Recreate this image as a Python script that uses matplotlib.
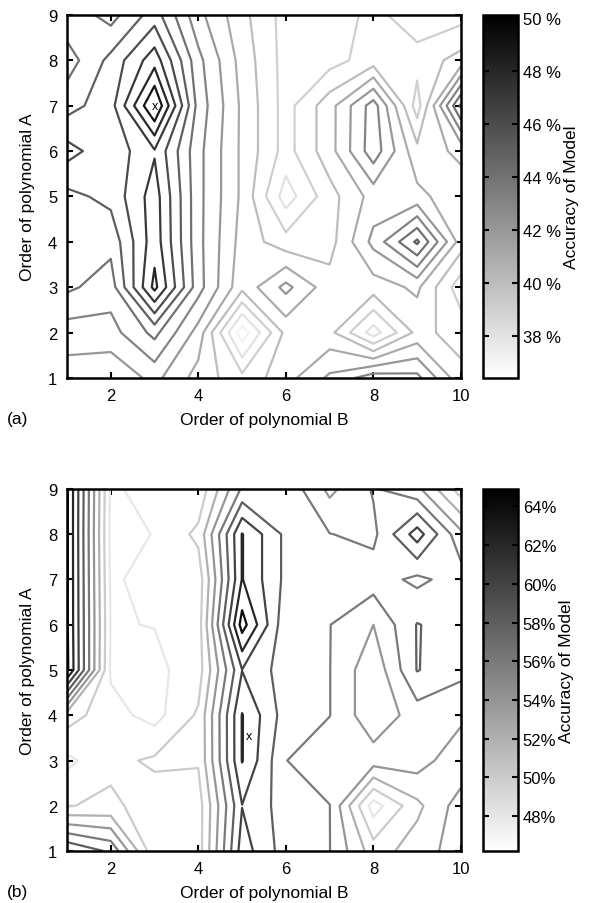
import matplotlib
matplotlib.use("Agg")
import matplotlib.pyplot as plt
import numpy as np
from matplotlib.colors import Normalize
from matplotlib.cm import ScalarMappable

plt.rcParams['font.family'] = ['Liberation Sans', 'DejaVu Sans']

order_b = np.arange(1, 11)   # Order of polynomial B (x)
order_a = np.arange(1, 10)   # Order of polynomial A (y)

# panel (a): accuracy in %, rows = A from 1 to 9, columns = B from 1 to 10
acc_a = np.array([
    [41.5, 41.2, 42.3, 40.6, 39.3, 40.6, 42.2, 43.6, 43.3, 40.3],   # A=1
    [42.5, 42.6, 44.3, 41.6, 36.4, 40.3, 40.3, 37.5, 40.3, 39.6],   # A=2
    [44.2, 43.5, 48.3, 43.4, 40.3, 42.3, 40.4, 40.5, 41.2, 38.4],   # A=3
    [44.6, 44.3, 47.6, 43.3, 40.6, 39.4, 39.6, 42.3, 45.2, 40.5],   # A=4
    [44.7, 45.3, 47.5, 43.3, 40.8, 37.5, 39.6, 41.4, 41.3, 40.3],   # A=5
    [46.4, 45.3, 46.9, 43.3, 40.8, 38.6, 40.6, 43.6, 40.3, 41.3],   # A=6
    [44.6, 45.6, 50.1, 43.6, 40.8, 38.6, 40.6, 43.5, 38.5, 45.2],   # A=7
    [43.5, 45.3, 47.6, 43.3, 40.6, 38.6, 38.6, 39.5, 39.4, 40.4],   # A=8
    [44.7, 43.6, 45.5, 42.3, 40.3, 38.6, 38.4, 39.3, 38.4, 38.6],   # A=9
])
levels_a = np.arange(37, 50, 1)
cbar_a_ticks = [38, 40, 42, 44, 46, 48, 50]
best_a = (3, 7)

# panel (b)
acc_b = np.array([
    [60.0, 57.6, 48.5, 49.0, 61.0, 57.0, 56.05, 51.0, 53.0, 55.0],   # A=1
    [49.9, 50.4, 49.1, 49.0, 59.95, 57.0, 56.05, 47.0, 51.5, 55.0],  # A=2
    [47.5, 49.5, 50.3, 50.2, 62.1, 56.05, 54.5, 55.0, 55.0, 52.5],   # A=3
    [51.0, 48.7, 47.3, 50.3, 62.1, 57.0, 56.05, 52.5, 55.0, 54.5],   # A=4
    [64.5, 47.7, 47.5, 49.0, 59.95, 57.0, 56.05, 52.5, 58.1, 56.5],  # A=5
    [64.3, 47.9, 48.05, 49.0, 64.9, 56.5, 56.05, 54.0, 58.1, 57.0],  # A=6
    [64.3, 47.7, 48.7, 48.8, 62.1, 57.5, 57.0, 57.0, 55.5, 57.0],    # A=7
    [64.3, 47.5, 48.05, 50.5, 62.1, 57.5, 56.05, 55.5, 61.0, 54.5],  # A=8
    [64.3, 47.7, 48.7, 48.5, 56.3, 57.5, 53.5, 56.2, 54.5, 49.0],    # A=9
])
levels_b = np.arange(48, 65, 2)
cbar_b_ticks = [48, 50, 52, 54, 56, 58, 60, 62, 64]
best_b = (5.15, 3.55)

fig = plt.figure(figsize=(5.96, 9.04), dpi=100)

panels = [
    (acc_a, levels_a, (36.4, 50.1), cbar_a_ticks, "%d %%", best_a, "(a)",
     [0.1124, 0.5808, 0.661, 0.4015]),
    (acc_b, levels_b, (46.2, 64.9), cbar_b_ticks, "%d%%", best_b, "(b)",
     [0.1124, 0.0575, 0.661, 0.4005]),
]

for acc, levels, (vmin, vmax), cticks, cfmt, best, tag, pos in panels:
    ax = fig.add_axes(pos)
    norm = Normalize(vmin=vmin, vmax=vmax)
    ax.contour(order_b, order_a, acc, levels=levels, cmap="gray_r", norm=norm,
               linewidths=1.6)
    ax.text(best[0], best[1], "x", ha="center", va="center", fontsize=9)
    ax.set_xlim(1, 10)
    ax.set_ylim(1, 9)
    ax.set_xticks([2, 4, 6, 8, 10])
    ax.set_yticks(range(1, 10))
    ax.tick_params(direction="in", top=True, right=True, labelsize=12,
                   width=1.5, length=4)
    ax.tick_params(axis="x", pad=7)
    ax.tick_params(axis="y", pad=7)
    for s in ax.spines.values():
        s.set_linewidth(1.8)
    ax.set_xlabel("Order of polynomial B", fontsize=12.5, labelpad=7)
    ax.set_ylabel("Order of polynomial A", fontsize=12.5, labelpad=9)
    fig.text(0.012, pos[1] - 0.045, tag, fontsize=12.5, va="center")

    cax = fig.add_axes([0.8104, pos[1], 0.0587, pos[3]])
    cb = fig.colorbar(ScalarMappable(norm=norm, cmap="gray_r"), cax=cax)
    cb.set_ticks(cticks)
    cb.set_ticklabels([cfmt % t for t in cticks])
    cax.tick_params(direction="in", left=True, right=True, labelsize=12,
                    width=1.5, length=4)
    cb.outline.set_linewidth(1.8)
    cb.set_label("Accuracy of Model", fontsize=12.5, labelpad=2)

fig.savefig("out.png", dpi=100)
